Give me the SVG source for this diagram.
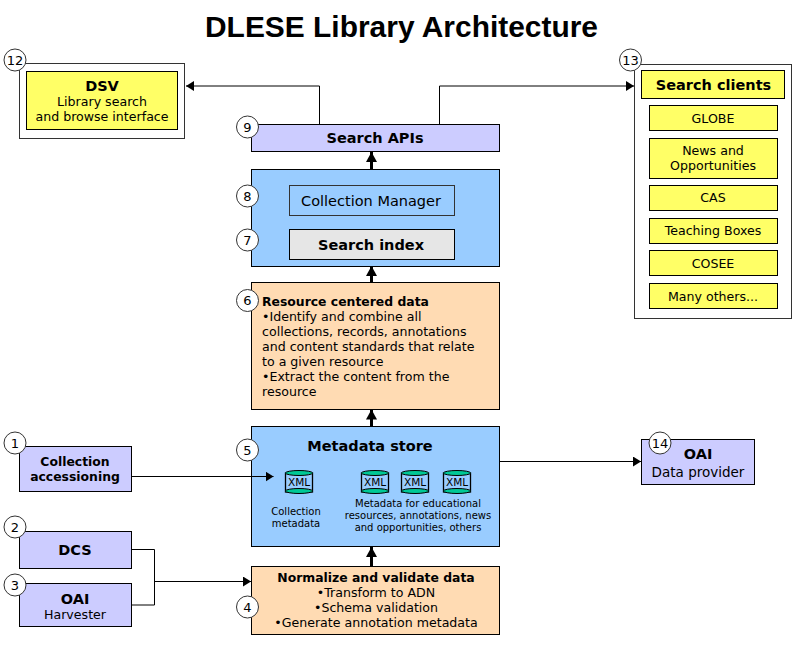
<svg xmlns="http://www.w3.org/2000/svg" width="795" height="650" viewBox="0 0 795 650">
<style>
text{font-family:"DejaVu Sans","Liberation Sans",sans-serif;font-size:12.6px;fill:#000;text-anchor:middle}
.b{font-weight:bold;font-size:12.4px}
.h{font-weight:bold;font-size:14.5px}
.s{font-size:10px}
.l{text-anchor:start}
.box{stroke:#000;stroke-width:1}
.y{fill:#ffff66}.p{fill:#ccccff}.u{fill:#99ccff}.o{fill:#ffdbb3}.w{fill:#fff;stroke:#333}
.n circle{fill:#fff;stroke:#333;stroke-width:1}
.n text{font-size:13px}
.c{fill:none;stroke:#000;stroke-width:1}
.t{stroke:#000;stroke-width:3;fill:none}
.cy{fill:#99ccff;stroke:#000;stroke-width:1.3}
.ce{fill:#00c896;stroke:#000;stroke-width:1}
</style>
<defs>
<marker id="a" markerUnits="userSpaceOnUse" markerWidth="9" markerHeight="10" refX="8" refY="5" orient="auto"><path d="M0 0L8 5L0 10Z"/></marker>
<marker id="h" markerUnits="userSpaceOnUse" markerWidth="11" markerHeight="11" refX="10" refY="5.500" orient="auto"><path d="M0 0L10 5.500L0 11Z"/></marker>
<g id="cyl">
<rect class="cy" x="0" y="3" width="27" height="19"/>
<ellipse class="ce" cx="13.500" cy="3" rx="13.500" ry="2.500"/>
<ellipse class="ce" cx="13.500" cy="21" rx="13.500" ry="2.500"/>
<text x="13.500" y="16" style="font-size:10.500px">XML</text>
</g>
</defs>
<text id="title" x="401.500" y="37" textLength="393" lengthAdjust="spacingAndGlyphs" style="font-family:'Liberation Sans',sans-serif;font-weight:bold;font-size:30px">DLESE Library Architecture</text>
<g id="dsv">
<rect class="box w" x="19.500" y="63.500" width="165" height="75"/>
<rect class="box y" x="26.500" y="71.500" width="151" height="58"/>
<text class="h" x="102" y="91">DSV</text>
<text x="102" y="106">Library search</text>
<text x="102" y="121">and browse interface</text>
</g>
<g id="clients">
<rect class="box w" x="634.500" y="64.500" width="157" height="254"/>
<rect class="box y" x="641.500" y="70.500" width="143" height="28"/>
<text class="h" x="713.500" y="90">Search clients</text>
<rect class="box y" x="649.500" y="105.500" width="128" height="25"/>
<text x="713" y="123">GLOBE</text>
<rect class="box y" x="649.500" y="138.500" width="128" height="40"/>
<text x="713" y="155">News and</text>
<text x="713" y="170">Opportunities</text>
<rect class="box y" x="649.500" y="185.500" width="128" height="25"/>
<text x="713" y="202">CAS</text>
<rect class="box y" x="649.500" y="218.500" width="128" height="25"/>
<text x="713" y="235">Teaching Boxes</text>
<rect class="box y" x="649.500" y="250.500" width="128" height="25"/>
<text x="713" y="268">COSEE</text>
<rect class="box y" x="649.500" y="283.500" width="128" height="25"/>
<text x="713" y="301">Many others...</text>
</g>
<g id="apis">
<rect class="box p" x="251.500" y="124.500" width="248" height="27"/>
<text class="b" x="375" y="143" style="font-size:14.500px">Search APIs</text>
</g>
<g id="index">
<rect class="box u" x="251.500" y="169.500" width="248" height="97"/>
<rect class="u" stroke="#333" x="289.500" y="185.500" width="165" height="30"/>
<text x="371" y="206" style="font-size:14.500px">Collection Manager</text>
<rect fill="#e6e6e6" stroke="#000" x="289.500" y="229.500" width="165" height="30"/>
<text class="b" x="371" y="250" style="font-size:14.500px">Search index</text>
</g>
<g id="resource">
<rect class="box o" x="251.500" y="282.500" width="248" height="127"/>
<text class="b l" x="262" y="306">Resource centered data</text>
<text class="l" x="262" y="321">•Identify and combine all</text>
<text class="l" x="262" y="336">collections, records, annotations</text>
<text class="l" x="262" y="351">and content standards that relate</text>
<text class="l" x="262" y="366">to a given resource</text>
<text class="l" x="262" y="381">•Extract the content from the</text>
<text class="l" x="262" y="396">resource</text>
</g>
<g id="store">
<rect class="box u" x="251.500" y="426.500" width="248" height="120"/>
<text class="h" x="370" y="451">Metadata store</text>
<use href="#cyl" x="285.500" y="470"/>
<use href="#cyl" x="361.500" y="470"/>
<use href="#cyl" x="401.500" y="470"/>
<use href="#cyl" x="443.500" y="470"/>
<text class="s" x="296" y="515">Collection</text>
<text class="s" x="296" y="527">metadata</text>
<text class="s" x="418" y="507">Metadata for educational</text>
<text class="s" x="418" y="519">resources, annotations, news</text>
<text class="s" x="418" y="531">and opportunities, others</text>
</g>
<g id="normalize">
<rect class="box o" x="251.500" y="566.500" width="248" height="68"/>
<text class="b" x="376" y="582">Normalize and validate data</text>
<text x="376" y="597">•Transform to ADN</text>
<text x="376" y="612">•Schema validation</text>
<text x="376" y="627">•Generate annotation metadata</text>
</g>
<g id="accession">
<rect class="box p" x="19.500" y="446.500" width="112" height="45"/>
<text class="b" x="75" y="466">Collection</text>
<text class="b" x="75" y="481">accessioning</text>
</g>
<g id="dcs">
<rect class="box p" x="19.500" y="531.500" width="112" height="37"/>
<text class="h" x="75" y="555">DCS</text>
</g>
<g id="harvester">
<rect class="box p" x="19.500" y="583.500" width="112" height="43"/>
<text class="h" x="75" y="604">OAI</text>
<text x="75" y="619">Harvester</text>
</g>
<g id="provider">
<rect class="box p" x="641.500" y="439.500" width="113" height="45"/>
<text class="h" x="698" y="459">OAI</text>
<text x="698" y="477" style="font-size:13.500px">Data provider</text>
</g>
<g id="connectors">
<path class="c" d="M319.500 124V86H186" marker-end="url(#a)"/>
<path class="c" d="M439.500 124V86H634" marker-end="url(#a)"/>
<path class="c" d="M131.500 476.500H273.500" marker-end="url(#a)"/>
<path class="c" d="M131.500 549.500H154.500V605H131.500M154.500 581.500H251" marker-end="url(#a)"/>
<path class="c" d="M499.500 461.500H641" marker-end="url(#a)"/>
<path class="t" d="M371.500 169V152" marker-end="url(#h)"/>
<path class="t" d="M371.500 282V266" marker-end="url(#h)"/>
<path class="t" d="M371.500 426V409.500" marker-end="url(#h)"/>
<path class="t" d="M371.500 566V547" marker-end="url(#h)"/>
</g>
<g id="numbers" class="n">
<g id="n1"><circle cx="15" cy="443" r="11"/><text x="15" y="448">1</text></g>
<g id="n2"><circle cx="15" cy="527" r="11"/><text x="15" y="532">2</text></g>
<g id="n3"><circle cx="15" cy="585" r="11"/><text x="15" y="590">3</text></g>
<g id="n4"><circle cx="247.500" cy="607" r="11"/><text x="247.500" y="612">4</text></g>
<g id="n5"><circle cx="247.500" cy="450" r="11"/><text x="247.500" y="455">5</text></g>
<g id="n6"><circle cx="247.500" cy="300.500" r="11"/><text x="247.500" y="305">6</text></g>
<g id="n7"><circle cx="247.500" cy="240" r="11"/><text x="247.500" y="245">7</text></g>
<g id="n8"><circle cx="247.500" cy="196" r="11"/><text x="247.500" y="201">8</text></g>
<g id="n9"><circle cx="247.500" cy="127" r="11"/><text x="247.500" y="132">9</text></g>
<g id="n12"><circle cx="15" cy="60" r="11"/><text x="15" y="65">12</text></g>
<g id="n13"><circle cx="630.500" cy="60" r="11"/><text x="630.500" y="65">13</text></g>
<g id="n14"><circle cx="660" cy="443" r="11"/><text x="660" y="448">14</text></g>
</g>
</svg>
